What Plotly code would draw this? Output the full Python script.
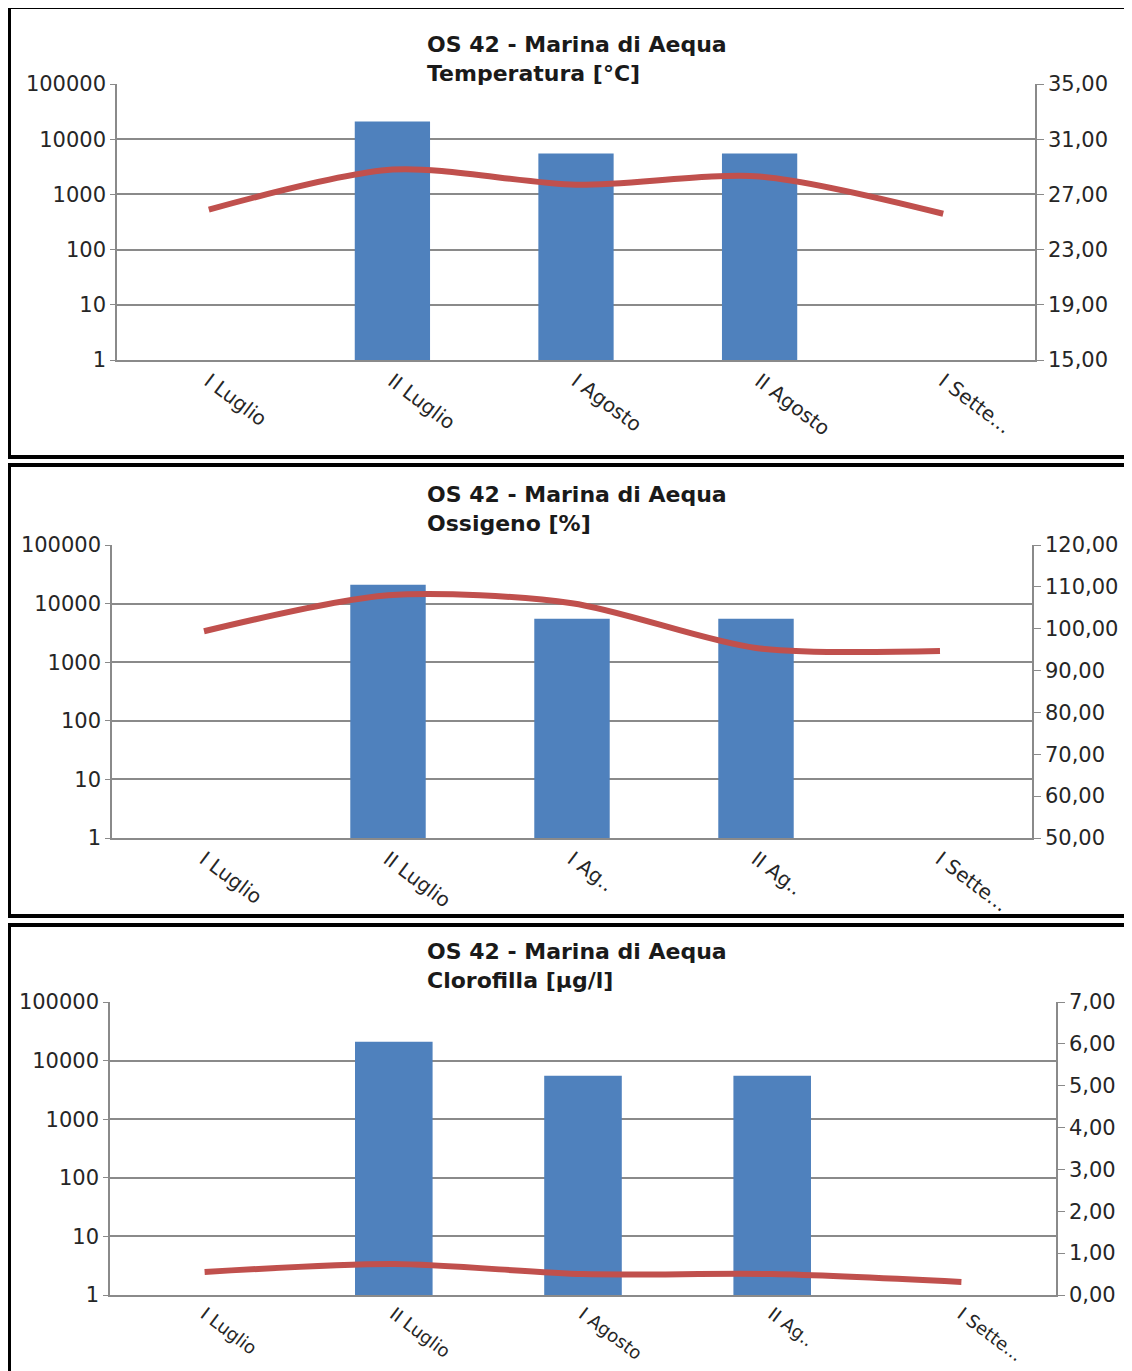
import plotly.graph_objects as go

# ---- data ----
categories = ["I Luglio", "II Luglio", "I Agosto", "II Agosto", "I Settembre"]
bar_values = [None, 21000, 5500, 5500, None]

temp_values = [25.9, 28.8, 27.7, 28.3, 25.6]
oxy_values = [99.4, 108.0, 106.1, 95.4, 94.7]
chl_values = [0.55, 0.74, 0.50, 0.50, 0.31]

ticks_p1 = ["I Luglio", "II Luglio", "I Agosto", "II Agosto", "I Sette..."]
ticks_p2 = ["I Luglio", "II Luglio", "I Ag..", "II Ag..", "I Sette..."]
ticks_p3 = ["I Luglio", "II Luglio", "I Agosto", "II Ag..", "I Sette..."]

title_main = "OS 42 - Marina di Aequa"
subtitles = ["Temperatura [°C]", "Ossigeno [%]", "Clorofilla [µg/l]"]

right_ranges = [(15, 35, 4), (50, 120, 10), (0, 7, 1)]
log_ticks = [1, 10, 100, 1000, 10000, 100000]

# ---- layout geometry (target-image pixels) ----
W, H = 1132, 1371
OFF = 8  # page body margin
Wf, Hf = W - OFF, H - OFF
panels = [
    dict(px=(117, 1035), py=(84, 360), border=(7, 457), title_y=30, xfs=20),
    dict(px=(112, 1032), py=(545, 838), border=(465, 916), title_y=480, xfs=20),
    dict(px=(110, 1056), py=(1002, 1295), border=(925, 1385), title_y=937, xfs=18),
]


def fx(px):
    return (px - OFF) / Wf


def fy(py):
    return 1 - (py - OFF) / Hf


BAR = "#4F81BD"
LINE = "#C0504D"
GRID = "#8A8A8A"
TXT = "#262626"
FONT = "DejaVu Sans"

fig = go.Figure()
line_series = [temp_values, oxy_values, chl_values]
tick_sets = [ticks_p1, ticks_p2, ticks_p3]

shapes = []
annotations = []
for i, p in enumerate(panels):
    n = i + 1
    xa = "x" if n == 1 else f"x{n}"
    ya_l = f"y{2*n-1}" if n > 1 else "y"
    ya_r = f"y{2*n}"
    xd = [fx(p["px"][0]), fx(p["px"][1])]
    yd = [fy(p["py"][1]), fy(p["py"][0])]

    fig.add_trace(go.Bar(x=categories, y=bar_values, marker_color=BAR,
                         marker_line_width=0,
                         xaxis=xa, yaxis=ya_l, showlegend=False))
    fig.add_trace(go.Scatter(x=categories, y=line_series[i], mode="lines",
                             line=dict(color=LINE, width=6, shape="spline", smoothing=0.8),
                             xaxis=xa, yaxis=ya_r, showlegend=False))

    xkey = "xaxis" if n == 1 else f"xaxis{n}"
    ylkey = "yaxis" if n == 1 else f"yaxis{2*n-1}"
    yrkey = f"yaxis{2*n}"
    lo, hi, step = right_ranges[i]
    fig.update_layout({
        xkey: dict(domain=xd, anchor=ya_l, type="category", automargin=False,
                   tickvals=categories, ticktext=tick_sets[i],
                   range=[-0.5, 4.5], tickangle=37, showgrid=False,
                   showline=True, linecolor=GRID, linewidth=1.5,
                   ticks="", tickfont=dict(family=FONT, size=p["xfs"], color=TXT)),
        ylkey: dict(domain=yd, anchor=xa, type="log", range=[0, 5], automargin=False,
                    tickvals=log_ticks, tickformat="d",
                    showgrid=True, gridcolor=GRID, gridwidth=1.5,
                    showline=True, linecolor=GRID, linewidth=1.5,
                    ticks="outside", ticklen=5, tickcolor=GRID,
                    zeroline=False,
                    tickfont=dict(family=FONT, size=21, color=TXT)),
        yrkey: dict(domain=yd, anchor=xa, overlaying=ya_l, side="right", automargin=False,
                    range=[lo, hi], dtick=step, tick0=lo, tickformat=".2f",
                    showgrid=False, zeroline=False,
                    showline=True, linecolor=GRID, linewidth=1.5,
                    ticks="outside", ticklen=7, tickcolor=GRID,
                    tickfont=dict(family=FONT, size=21, color=TXT)),
    })

    b0, b1 = p["border"]
    shapes.append(dict(type="rect", xref="paper", yref="paper",
                       x0=fx(9), x1=1.02, y0=fy(b1), y1=fy(b0),
                       line=dict(color="black", width=4), fillcolor="rgba(0,0,0,0)"))
    annotations.append(dict(xref="paper", yref="paper", x=fx(425),
                            y=fy(p["title_y"]), xanchor="left", yanchor="top",
                            align="left", showarrow=False,
                            text=f"<b>{title_main}<br>{subtitles[i]}</b>",
                            font=dict(family=FONT, size=22, color="#1a1a1a")))

fig.update_layout(width=Wf, height=Hf, margin=dict(l=0, r=0, t=0, b=0, autoexpand=False),
                  paper_bgcolor="white", plot_bgcolor="white",
                  separators=",.", bargap=0.59,
                  shapes=shapes, annotations=annotations)

fig.write_html("out.html")
